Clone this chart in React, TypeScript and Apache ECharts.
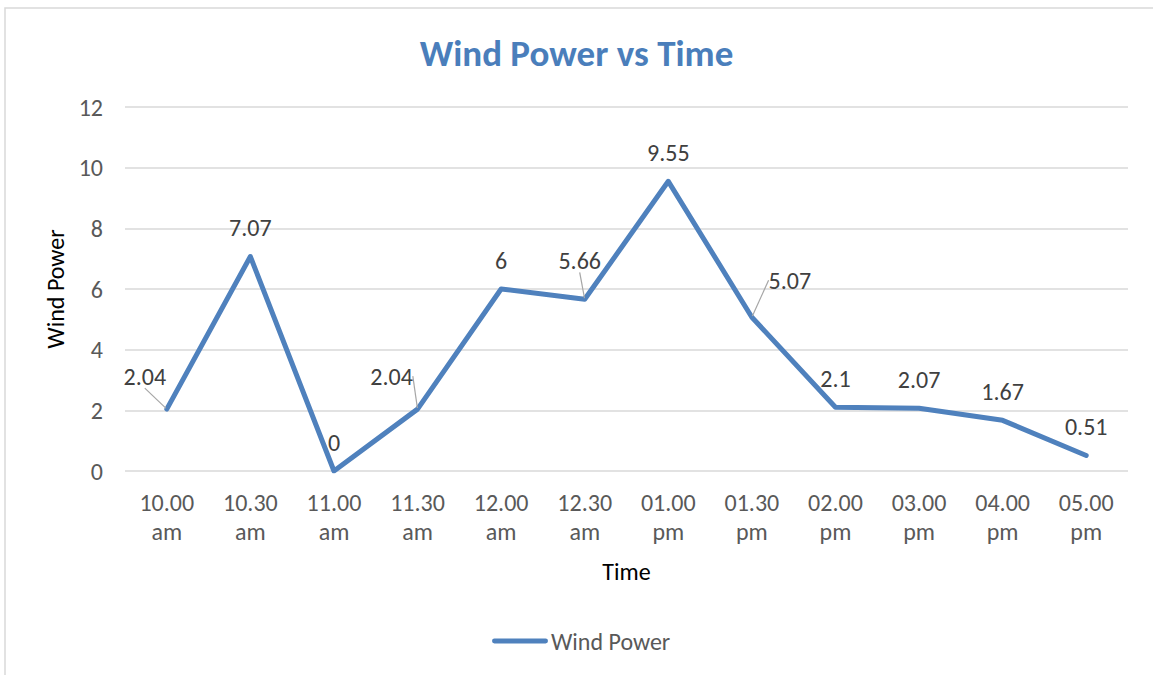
import React, { useEffect, useRef } from "react";
import * as echarts from "echarts";

const categories = [
  "10.00\nam", "10.30\nam", "11.00\nam", "11.30\nam", "12.00\nam", "12.30\nam",
  "01.00\npm", "01.30\npm", "02.00\npm", "03.00\npm", "04.00\npm", "05.00\npm",
];
const windPower = [2.04, 7.07, 0, 2.04, 6, 5.66, 9.55, 5.07, 2.1, 2.07, 1.67, 0.51];
const yTicks = { min: 0, max: 12, interval: 2 };

const FONT = "Calibri, Carlito, 'Open Sans', sans-serif";
const BLUE = "#4F81BD";

const labelShifts: Record<number, [number, number]> = {
  0: [-22, -4],
  3: [-26, -4],
  5: [-5, -10],
  7: [38, -8],
};

export default function App() {
  const ref = useRef<HTMLDivElement>(null);
  useEffect(() => {
    if (!ref.current) return;
    const chart = echarts.init(ref.current, null, { renderer: "svg" });
    const seriesData = windPower.map((v, i) => ({
      value: v,
      labelLine: { show: !!labelShifts[i] },
    }));
    chart.setOption({
      animation: false,
      backgroundColor: "#ffffff",
      title: {
        text: "Wind Power vs Time",
        left: "center",
        top: 30,
        textStyle: { color: "#4a7ebb", fontFamily: FONT, fontWeight: "bold", fontSize: 37 },
      },
      graphic: [
        {
          type: "rect",
          shape: { x: 5, y: 8, width: 1170, height: 700 },
          style: { fill: "none", stroke: "#d9d9d9", lineWidth: 1.5 },
          silent: true,
        },
      ],
      legend: {
        bottom: 17,
        left: 487,
        itemWidth: 56,
        itemHeight: 14,
        itemGap: 10,
        textStyle: { color: "#595959", fontFamily: FONT, fontSize: 24, padding: [0, 0, 0, -2] },
        data: [{ name: "Wind Power", icon: "path://M2,5 L54,5 A2.5,2.5 0 0 1 54,10 L2,10 A2.5,2.5 0 0 1 2,5 Z" }],
      },
      grid: { left: 125, right: 25, top: 107, bottom: 204 },
      xAxis: {
        type: "category",
        data: categories,
        boundaryGap: true,
        name: "Time",
        nameLocation: "middle",
        nameGap: 88,
        nameTextStyle: { color: "#000000", fontFamily: FONT, fontSize: 24 },
        axisLine: { show: false },
        axisTick: { show: false },
        axisLabel: {
          color: "#595959",
          fontFamily: FONT,
          fontSize: 24,
          lineHeight: 29,
          margin: 17,
          interval: 0,
        },
      },
      yAxis: {
        type: "value",
        min: yTicks.min,
        max: yTicks.max,
        interval: yTicks.interval,
        name: "Wind Power",
        nameLocation: "middle",
        nameGap: 56,
        nameTextStyle: { color: "#000000", fontFamily: FONT, fontSize: 24 },
        axisLine: { show: false },
        axisTick: { show: false },
        axisLabel: { color: "#595959", fontFamily: FONT, fontSize: 24, margin: 22 },
        splitLine: { lineStyle: { color: "#d9d9d9", width: 1.5 } },
      },
      series: [
        {
          name: "Wind Power",
          type: "line",
          data: seriesData,
          symbol: "circle",
          symbolSize: 2,
          showSymbol: true,
          itemStyle: { color: BLUE },
          lineStyle: { color: BLUE, width: 5, cap: "round", join: "round" },
          label: {
            show: true,
            position: "top",
            distance: 16,
            color: "#404040",
            fontFamily: FONT,
            fontSize: 24,
          },
          labelLine: { show: false, lineStyle: { color: "#a6a6a6", width: 1.2 } },
          labelLayout: (params: any) => {
            const s = labelShifts[params.dataIndex];
            if (s) return { dx: s[0], dy: s[1] };
            return {};
          },
        },
      ],
    });
    return () => chart.dispose();
  }, []);
  return (
    <div
      ref={ref}
      style={{ position: "fixed", left: 0, top: 0, width: 1153, height: 675 }}
    />
  );
}
